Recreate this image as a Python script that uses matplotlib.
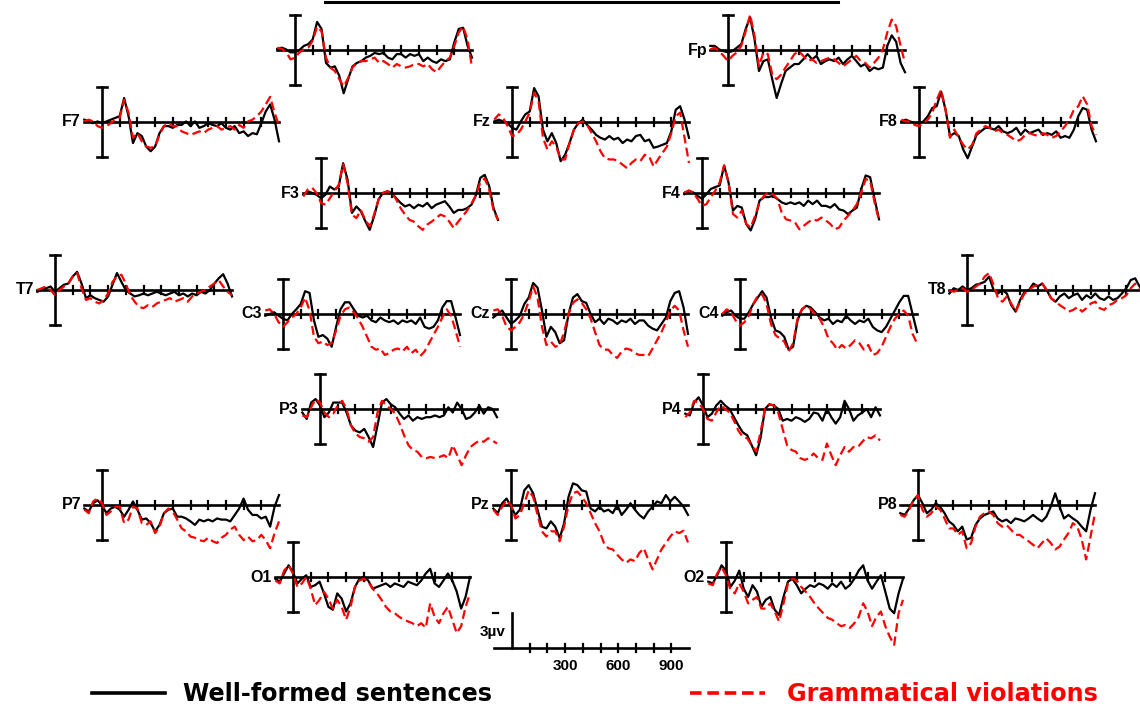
import numpy as np
import matplotlib.pyplot as plt
from matplotlib.lines import Line2D

# ERP grand averages, sampled every 25 ms from -100 to 1000 ms (values in microvolts)
times = np.arange(-100, 1001, 25)

fpl_black = [0.1, 0.2, 0.05, -0.2, -0.2, 0, 0.35, 0.5, 0.9,
             2.4, 1.8, -1.1, -1.5, -1.4, -2.2, -3.7, -2.5, -1.4,
             -1.1, -0.95, -0.65, -0.5, -0.25, -0.35, -0.25, -0.65, -0.8,
             -0.35, -0.35, -0.65, -0.35, -0.5, -0.35, -0.95, -0.65, -0.95,
             -1.1, -0.8, -0.95, -0.8, 0.65, 1.8, 1.9, 0.35, -0.65]
fpl_red = [0.2, 0.1, -0.2, -0.8, -0.65, -0.2, 0.05, 0.2, 0.8,
           2.0, 1.6, -0.65, -1.5, -1.8, -2.5, -3.1, -2.4, -1.5,
           -1.1, -0.95, -0.95, -0.8, -0.65, -1.1, -0.95, -1.2, -1.5,
           -1.2, -1.4, -1.5, -1.4, -1.2, -1.2, -1.4, -1.2, -1.65,
           -1.9, -1.4, -0.95, -0.65, 0.35, 1.5, 2.0, 0.9, -1.5]

fp_black = [0.35, 0.35, 0.05, -0.1, -0.2, -0.1, 0.2, 0.5, 1.8,
            2.8, 0.9, -1.8, -0.95, -0.8, -2.5, -4.1, -2.9, -1.8,
            -1.5, -1.2, -1.2, -0.8, -0.35, -0.8, -0.5, -1.2, -0.95,
            -0.8, -0.95, -0.65, -1.2, -0.8, -0.5, -0.95, -1.4, -1.2,
            -1.8, -1.5, -1.65, -1.5, 0.35, 1.25, 0.7, -1.1, -1.9]
fp_red = [0.05, 0.2, -0.1, -0.5, -0.95, -0.5, -0.2, 0.35, 1.6,
          3.0, 1.2, -1.4, -0.2, -0.35, -2.1, -2.5, -2.1, -1.5,
          -0.95, -0.35, -0.1, -0.5, -0.95, -0.8, -1.1, -0.95, -0.8,
          -0.65, -0.8, -1.1, -1.4, -1.1, -0.8, -0.5, -0.95, -1.1,
          -1.5, -1.1, -0.65, 0.05, 1.5, 2.6, 2.05, 0.35, -1.1]

f7_black = [0.2, 0.05, -0.1, 0.05, -0.1, 0.05, 0.2, 0.35, 0.5,
            2.05, 0.5, -1.8, -0.95, -1.2, -2.1, -2.5, -2.1, -0.95,
            -0.35, -0.35, -0.5, -0.25, -0.25, 0.05, -0.35, 0.05, -0.5,
            -0.35, -0.1, -0.25, -0.35, -0.1, -0.5, -0.65, -0.35, -0.95,
            -0.8, -1.2, -0.95, -1.05, -0.1, 0.9, 1.5, 0.2, -1.65]
f7_red = [0.05, 0.2, 0.05, -0.35, -0.5, -0.35, -0.1, 0.2, 0.35,
          1.9, 0.8, -1.35, -0.95, -1.65, -2.1, -2.2, -2.1, -1.1,
          -0.35, -0.1, -0.35, -0.35, -0.8, -0.95, -1.1, -0.95, -0.8,
          -0.95, -0.65, -0.5, -0.35, -0.65, -0.5, -0.35, -0.65, -0.25,
          -0.5, 0.05, 0.2, 0.5, 0.9, 1.5, 2.15, 0.8, -0.3]

fz_black = [0.05, 0.2, 0.05, -0.1, -0.5, -0.65, 0.05, 0.65, 0.9,
            2.9, 2.2, -0.65, -1.65, -0.95, -1.8, -3.35, -2.8, -1.8,
            -0.65, -0.1, 0.2, -0.25, -0.65, -1.1, -1.35, -1.5, -1.2,
            -1.5, -1.35, -1.8, -1.5, -1.65, -1.2, -1.1, -1.65, -1.5,
            -2.2, -2.1, -1.95, -1.8, -0.8, 1.05, 1.35, 0.2, -1.35]
fz_red = [0.2, 0.65, 0.35, -0.35, -1.2, -1.1, -0.65, 0.05, 0.8,
          2.5, 1.8, -1.35, -2.35, -1.65, -2.1, -3.2, -3.2, -1.8,
          -0.65, -0.1, 0.05, -0.25, -0.95, -1.65, -2.5, -3.1, -3.2,
          -3.2, -3.35, -3.65, -3.95, -3.5, -3.2, -3.35, -2.8, -2.95,
          -3.8, -3.2, -2.65, -2.1, -0.95, 0.5, 0.8, -1.35, -3.5]

f8_black = [0.05, 0.2, 0.05, -0.1, -0.1, 0.05, 0.5, 1.2, 1.35,
            2.6, 1.05, -1.2, -0.95, -1.2, -2.35, -3.1, -2.1, -1.1,
            -0.8, -0.5, -0.5, -0.65, -0.35, -0.8, -0.95, -0.8, -0.5,
            -1.1, -0.65, -0.95, -0.8, -0.65, -1.1, -0.95, -1.1, -0.8,
            -1.35, -1.2, -1.35, -0.65, 0.5, 1.2, 1.05, -0.65, -1.65]
f8_red = [0.2, 0.05, 0.05, -0.25, -0.35, -0.1, 0.2, 0.8, 1.9,
          2.75, 1.05, -1.35, -0.65, -1.35, -1.95, -2.35, -1.95, -0.95,
          -0.65, -0.35, -0.5, -0.8, -0.65, -0.95, -1.1, -1.35, -1.65,
          -1.5, -1.1, -0.95, -1.1, -1.2, -0.95, -1.1, -1.35, -1.2,
          -0.8, -0.35, 0.2, 1.05, 1.35, 2.2, 1.5, -0.35, -1.1]

f3_black = [-0.15, 0.15, 0, -0.15, -0.45, -0.15, 0.55, 0.3, 0.55,
            2.55, 1.15, -1.7, -1.15, -1.55, -2.4, -3.15, -2.0, -0.55,
            0, 0.15, 0, -0.45, -0.85, -1.15, -1.0, -1.3, -1.0,
            -1.15, -0.85, -1.3, -1.0, -0.85, -0.7, -1.15, -1.7, -1.45,
            -1.45, -1.3, -1.0, -0.2, 1.3, 1.55, 0.6, -1.3, -2.3]
f3_red = [-0.3, 0.3, 0.45, 0, -0.85, -1.0, -0.45, 0.15, 0.7,
          2.45, 0.85, -1.85, -2.15, -1.45, -2.3, -2.85, -1.85, -0.55,
          0, 0.15, 0, -0.55, -1.3, -1.85, -2.3, -2.45, -2.85,
          -3.15, -2.7, -2.45, -2.15, -1.85, -2.0, -2.45, -3.0, -2.45,
          -2.0, -1.5, -0.9, -0.2, 0.9, 1.25, 0.3, -1.5, -2.3]

f4_black = [-0.1, 0.2, 0.05, -0.25, -0.5, -0.1, 0.35, 0.5, 0.65,
            2.35, 0.9, -1.5, -1.1, -1.25, -2.65, -3.2, -2.25, -0.65,
            -0.35, -0.35, -0.25, -0.5, -0.8, -0.95, -0.8, -0.95, -0.8,
            -1.1, -0.65, -0.95, -0.65, -1.1, -1.1, -1.25, -0.95, -1.4,
            -1.5, -1.8, -1.5, -1.25, 0.35, 1.5, 1.35, -0.5, -2.25]
f4_red = [0.05, 0.2, 0.05, -0.5, -1.1, -0.95, -0.35, 0.2, 0.9,
          2.35, 0.9, -1.8, -2.1, -1.5, -2.65, -2.95, -1.95, -0.8,
          -0.25, 0.05, -0.1, -0.5, -1.65, -2.25, -2.35, -2.5, -3.1,
          -2.8, -2.5, -2.25, -2.35, -2.1, -2.35, -2.65, -3.1, -2.95,
          -2.35, -1.95, -1.5, -0.95, 0.05, 1.2, 1.05, -0.8, -2.35]

t7_black = [-0.15, 0, 0.15, 0.3, -0.15, 0.15, 0.45, 0.55, 1.15,
            1.55, 0.55, -0.7, -0.45, -0.7, -0.85, -1.0, -0.55, 0.45,
            1.45, 0.7, 0, -0.3, -0.55, -0.45, -0.3, -0.45, -0.3,
            -0.15, -0.3, -0.45, -0.3, -0.15, -0.45, -0.3, -0.55, -0.3,
            -0.45, -0.15, -0.3, 0, 0.55, 1.0, 1.35, 0.55, -0.55]
t7_red = [0, 0.15, 0.3, 0, -0.45, 0, 0.3, 0.55, 1.15,
          1.45, 0.15, -0.85, -0.7, -1.0, -1.15, -0.85, -0.3, 0.7,
          1.15, 1.3, 0.55, -0.45, -1.0, -1.45, -1.55, -1.3, -1.45,
          -1.15, -1.0, -0.85, -0.7, -1.0, -0.85, -0.7, -1.0, -0.55,
          -0.3, -0.15, 0, 0.3, 0.55, 0.85, 0.3, -0.15, -0.45]

c3_black = [-0.15, 0, 0.15, -0.15, -0.4, -0.55, 0, 0.4, 0.85,
            1.95, 1.8, -0.55, -1.95, -1.8, -2.1, -2.8, -1.1, 0.4,
            1.0, 1.0, 0.4, -0.15, -0.3, -0.15, -0.55, -0.7, -0.3,
            -0.55, -0.7, -0.55, -0.85, -0.55, -0.7, -0.55, -0.85, -0.3,
            -1.1, -1.25, -1.1, -0.55, 0.55, 1.1, 1.1, -0.3, -1.8]
c3_red = [0.3, 0.4, 0, -0.7, -1.1, -0.7, -0.3, 0, 0.55,
          1.4, 0.3, -1.95, -2.5, -2.35, -2.65, -2.5, -1.4, -0.15,
          0.4, 0.55, 0.15, -0.4, -1.1, -1.95, -2.8, -3.05, -2.95,
          -3.5, -3.35, -3.05, -2.95, -3.2, -2.8, -3.35, -3.05, -3.6,
          -3.2, -2.5, -1.8, -1.1, -0.3, 0.4, -0.15, -1.4, -2.8]

cz_black = [-0.3, 0, 0.3, -0.3, -0.85, -0.55, -0.15, 0.85, 1.4,
            2.65, 2.25, 0.3, -1.95, -1.1, -1.55, -2.5, -2.25, 0,
            1.4, 1.7, 1.1, 0.95, 0, -0.7, -0.4, -0.85, -0.4,
            -0.55, -0.85, -0.55, -0.7, -0.4, -0.85, -0.55, -0.55, -1.0,
            -1.25, -1.4, -0.85, -0.3, 1.1, 1.8, 1.95, 0.55, -1.7]
cz_red = [0.3, 0.4, -0.15, -1.1, -1.4, -1.1, -0.7, 0, 1.1,
          2.35, 1.4, -1.1, -2.65, -2.35, -2.8, -2.65, -1.55, 0,
          0.95, 1.25, 0.95, 0.4, -0.4, -1.55, -2.65, -3.05, -3.05,
          -3.5, -3.75, -3.2, -2.95, -3.05, -3.35, -3.5, -3.5, -3.6,
          -2.95, -2.25, -1.55, -0.7, 0.3, 0.7, 0.3, -1.4, -2.8]

c4_black = [-0.15, 0.15, 0.3, -0.15, -0.4, -0.4, 0.15, 0.85, 1.4,
            1.95, 1.4, -0.3, -1.4, -1.55, -1.95, -3.05, -2.8, -0.55,
            0.4, 0.7, 0.55, 0.15, -0.3, -0.55, -0.4, -0.85, -0.55,
            -0.7, -0.15, -0.55, -0.85, -0.55, -0.7, -0.4, -1.1, -1.4,
            -1.55, -1.1, -0.4, 0.3, 1.0, 1.55, 1.55, 0, -1.55]
c4_red = [0, 0.4, 0.15, -0.55, -1.0, -0.7, -0.15, 0.85, 1.55,
          1.7, 0.85, -0.85, -1.8, -2.1, -2.35, -3.2, -2.5, -0.4,
          0.4, 0.7, 0.4, 0, -0.4, -1.1, -2.1, -2.5, -3.05,
          -2.65, -2.95, -2.65, -2.25, -2.5, -3.05, -2.65, -3.5, -3.35,
          -2.8, -1.95, -1.1, -0.4, 0, 0.3, -0.15, -1.7, -2.5]

t8_black = [-0.3, 0.15, 0, 0.3, 0, 0.15, 0.45, 0.55, 0.7,
            1.15, 0, -0.3, 0, -0.3, -1.3, -1.85, -0.85, -0.15,
            0, 0.55, 0.3, 0.55, 0, -0.7, -1.0, -0.55, -0.3,
            -0.7, -0.45, -0.3, -0.85, -0.45, -0.7, -0.3, -0.7, -0.85,
            -0.55, -0.85, -0.7, -0.3, 0.15, 0.85, 1.0, 0.3, -0.3]
t8_red = [0, -0.15, 0, 0.15, -0.15, 0, 0.3, 0.55, 1.15,
          1.45, 0.45, -0.7, -1.0, -0.55, -1.15, -1.85, -1.0, -0.3,
          0, 0.3, 0.45, 0.55, 0, -0.7, -1.0, -1.3, -1.55,
          -1.85, -1.7, -1.45, -1.85, -1.55, -1.15, -1.0, -1.55, -1.7,
          -1.3, -1.15, -0.85, -0.7, -0.45, 0.15, 0.55, 0.15, -0.45]

p3_black = [-0.3, -0.85, 0.55, 0.85, 0.3, -0.7, -0.3, 0.55, 0.55,
            0.55, -0.3, -1.4, -1.85, -2.0, -1.7, -2.4, -3.25, -1.4,
            0.55, 0.85, 0.4, 0.15, -0.4, -0.85, -0.55, -1.0, -0.7,
            -0.85, -0.7, -0.7, -0.55, -0.7, -0.55, 0.15, -0.3, 0.55,
            0, -0.85, -0.7, -0.3, 0.3, -0.4, 0.15, 0, -0.7]
p3_red = [-0.55, -0.7, 0.15, 0.85, 0.55, -0.3, -0.7, -0.4, 0.3,
          0.7, 0, -1.4, -2.1, -2.4, -2.5, -2.8, -2.4, -0.3,
          0.7, 0.3, 0, -0.4, -1.25, -2.25, -3.1, -3.5, -3.65,
          -4.1, -4.2, -4.1, -4.2, -4.1, -3.95, -4.2, -3.1, -3.95,
          -4.8, -3.95, -3.25, -2.95, -2.7, -2.8, -2.5, -2.7, -2.95]

p4_black = [-0.4, -0.55, 0.55, 1.0, 0.3, -0.7, -0.4, 0.3, 0.7,
            0.3, 0, -0.7, -1.4, -2.0, -2.25, -3.1, -3.95, -2.5,
            0, 0.4, 0.3, 0, -1.0, -0.85, -1.0, -0.7, -0.85,
            -1.1, -0.85, -0.3, -0.4, -1.0, 0, -0.7, -1.25, -0.7,
            0.7, 0, -1.0, -0.55, -0.3, 0, -0.7, 0.15, -0.55]
p4_red = [-0.7, -0.3, 0.7, 0.55, 0, -0.85, -1.0, -0.3, 0.3,
          0, -0.3, -1.0, -1.85, -2.4, -2.5, -3.1, -3.65, -2.0,
          0, 0.4, 0.3, -0.3, -1.7, -3.1, -3.5, -3.65, -4.2,
          -4.35, -4.2, -3.8, -4.2, -4.35, -2.95, -3.95, -4.8, -3.95,
          -3.25, -3.65, -3.25, -3.25, -2.8, -2.4, -2.5, -2.25, -2.7]

p7_black = [-0.3, -0.55, 0.15, 0.4, 0, -0.7, -0.3, -0.15, -0.4,
            -1.0, -0.4, 0.3, -0.4, -1.25, -1.15, -1.55, -2.25, -1.7,
            -0.7, -0.4, -0.3, -1.0, -1.0, -1.15, -1.4, -1.7, -1.25,
            -1.4, -1.25, -1.4, -1.15, -1.25, -1.25, -1.4, -0.85, -0.3,
            0.55, -0.4, -0.85, -0.85, -1.15, -1.0, -1.85, -0.15, 0.85]
p7_red = [-0.4, -0.7, 0.3, 0.55, 0.15, -0.85, -0.55, -0.15, -0.15,
          -1.55, -1.25, -0.15, -0.3, -1.55, -1.7, -1.4, -2.4, -1.85,
          -0.7, -0.3, -0.55, -1.25, -2.0, -2.25, -2.7, -2.8, -3.0,
          -3.1, -2.8, -3.1, -3.25, -2.8, -2.55, -2.1, -1.85, -2.55,
          -3.0, -2.7, -3.1, -3.0, -2.55, -3.0, -3.7, -2.4, -1.4]

pz_black = [-0.3, -0.7, 0.15, 0.55, -0.15, -0.85, -0.4, 1.25, 1.7,
            1.0, -0.4, -1.85, -2.0, -1.4, -1.85, -2.85, -1.55, 0.7,
            1.85, 1.7, 1.25, 1.15, -0.3, -0.55, -0.15, -0.55, -0.4,
            -0.7, 0, -0.85, -0.4, 0.15, -0.4, -0.85, -1.15, -0.55,
            -0.15, 0.3, 0.15, 0.85, 0.3, 0.7, 0.3, -0.15, -0.85]
pz_red = [-0.4, -0.85, -0.15, 0.4, 0, -1.15, -0.85, 0.15, 1.25,
          0.7, -0.85, -2.25, -2.7, -2.25, -2.25, -3.1, -1.85, 0,
          1.0, 1.15, 0.7, 0.15, -0.7, -1.55, -2.25, -3.25, -3.7,
          -3.8, -4.25, -4.65, -4.95, -4.65, -4.8, -4.1, -3.7, -4.65,
          -5.5, -4.65, -3.8, -3.25, -2.7, -2.25, -2.4, -2.2, -3.2]

p8_black = [-0.7, -0.85, -0.3, 0.4, 0.85, 0.15, -0.7, -0.4, 0.15,
            -0.15, -0.7, -1.4, -1.7, -2.25, -1.85, -2.95, -2.8, -1.7,
            -1.15, -0.85, -0.7, -0.55, -1.15, -1.4, -1.25, -1.55, -1.15,
            -1.25, -1.4, -1.15, -0.85, -1.15, -1.4, -1.0, -0.15, 1.0,
            -0.15, -1.15, -0.85, -1.15, -1.4, -1.85, -2.25, -0.4, 1.0]
p8_red = [-0.85, -1.0, -0.4, 0.4, 0.85, -0.4, -1.0, -0.7, -0.15,
          -0.4, -1.15, -2.0, -2.0, -2.55, -2.25, -3.7, -3.25, -1.85,
          -1.0, -0.7, -0.55, -0.85, -1.55, -1.85, -1.7, -2.1, -2.55,
          -2.55, -2.85, -3.1, -3.4, -3.7, -3.25, -2.85, -3.25, -3.8,
          -3.55, -2.95, -2.4, -1.55, -1.85, -2.95, -4.65, -2.7, -0.7]

o1_black = [-0.15, -0.4, 0.3, 1.0, 0.4, -0.55, -0.15, 0.15, -0.85,
            -0.7, -0.4, -1.4, -2.55, -2.8, -1.4, -1.85, -2.95, -2.25,
            -0.85, -0.15, 0, -0.3, -1.0, -0.85, -0.7, -0.55, -0.85,
            -0.55, -0.7, -0.85, -0.4, -0.55, -0.7, -0.3, 0.3, 0.7,
            -0.55, -0.85, -0.3, 0.3, -0.3, -1.25, -2.7, -1.7, 0]
o1_red = [-0.3, -0.55, 0.55, 1.0, 0.3, -0.85, -0.55, 0, -1.0,
          -2.4, -1.95, -1.25, -1.85, -2.7, -1.95, -2.55, -3.65, -2.55,
          -0.85, -0.3, -0.15, -0.4, -1.0, -1.4, -1.95, -2.55, -2.95,
          -3.1, -3.4, -3.65, -3.8, -3.95, -4.2, -3.95, -4.35, -2.25,
          -3.4, -3.95, -3.1, -2.55, -3.65, -4.8, -4.2, -2.55, -1.4]

o2_black = [-0.4, -0.55, 0.15, 1.0, 0.55, -0.85, -0.3, 0.55, -1.0,
            -1.7, -0.7, -1.25, -2.55, -1.95, -1.7, -2.8, -3.25, -1.7,
            -0.4, -0.15, -0.7, -1.4, -1.0, -0.7, -0.85, -0.55, -0.7,
            -1.0, -0.55, -0.85, -0.4, -1.0, -0.7, -0.15, 0.55, 1.0,
            -0.3, -1.0, -0.4, 0.15, -1.25, -2.7, -3.1, -1.4, -0.15]
o2_red = [-0.55, -0.7, 0.3, 0.85, 0.15, -1.1, -1.4, -0.55, -1.25,
          -2.25, -1.95, -1.7, -2.7, -2.7, -2.25, -2.95, -3.8, -2.25,
          -0.55, -0.15, -0.3, -0.85, -1.25, -1.7, -2.25, -2.7, -3.1,
          -3.5, -3.65, -3.95, -4.2, -4.1, -4.35, -3.95, -3.4, -2.25,
          -2.95, -4.2, -3.4, -2.95, -4.2, -5.1, -5.8, -3.1, -1.95]

scale_ticks = [300, 600, 900]

# figure size in pixels and the drawing scale of each panel
W, H = 1140, 706
PX_MS = 0.177   # pixels per millisecond
PX_UV = 11.7    # pixels per microvolt
RED = '#ff0000'
DASH = (0, (4, 2))

# (label, black, red, x of the 0 ms bar, y of the baseline), pixel positions from top-left
layout = [
    ('',   fpl_black, fpl_red, 295, 50),
    ('Fp', fp_black, fp_red, 728, 50),
    ('F7', f7_black, f7_red, 102, 122),
    ('Fz', fz_black, fz_red, 512, 122),
    ('F8', f8_black, f8_red, 919, 122),
    ('F3', f3_black, f3_red, 321, 193),
    ('F4', f4_black, f4_red, 702, 193),
    ('T7', t7_black, t7_red, 55, 290),
    ('C3', c3_black, c3_red, 283, 314),
    ('Cz', cz_black, cz_red, 511, 314),
    ('C4', c4_black, c4_red, 740, 314),
    ('T8', t8_black, t8_red, 967, 290),
    ('P3', p3_black, p3_red, 320, 409),
    ('P4', p4_black, p4_red, 703, 409),
    ('P7', p7_black, p7_red, 102, 505),
    ('Pz', pz_black, pz_red, 511, 505),
    ('P8', p8_black, p8_red, 918, 505),
    ('O1', o1_black, o1_red, 293, 577),
    ('O2', o2_black, o2_red, 726, 577),
]

fig = plt.figure(figsize=(W / 100, H / 100), dpi=100)


def make_axes(bar_x, base_y):
    left = bar_x - 100 * PX_MS
    bottom = H - base_y - 6 * PX_UV
    ax = fig.add_axes([left / W, bottom / H, 1100 * PX_MS / W, 10 * PX_UV / H])
    ax.set_xlim(-100, 1000)
    ax.set_ylim(-6, 4)
    ax.axis('off')
    return ax


def draw_frame(ax, top=3, bottom=-3, caps=True):
    ax.plot([-100, 1000], [0, 0], color='black', lw=1.9, clip_on=False)
    ax.plot([0, 0], [bottom, top], color='black', lw=1.9, clip_on=False)
    if caps:
        for y in (top, bottom):
            ax.plot([-30, 30], [y, y], color='black', lw=1.9, clip_on=False)
    for t in range(100, 1000, 100):
        ax.plot([t, t], [-0.35, 0.35], color='black', lw=1.6, clip_on=False)


for name, black, red, bx, by in layout:
    ax = make_axes(bx, by)
    draw_frame(ax)
    ax.plot(times, black, color='black', lw=1.6, clip_on=False)
    ax.plot(times, red, color=RED, lw=1.6, ls=DASH, clip_on=False)
    ax.text(-118, 0, name, ha='right', va='center', fontsize=11.5,
            fontweight='bold', family='Liberation Sans')

# calibration panel
ax = make_axes(512, 648)
draw_frame(ax, top=3, bottom=0, caps=False)
ax.plot([-110, -80], [3, 3], color='black', lw=1.6, clip_on=False)
for t in scale_ticks:
    ax.text(t, -0.9, str(t), ha='center', va='top', fontsize=11,
            fontweight='bold', family='Liberation Sans')
ax.text(-35, 1.4, '3µv', ha='right', va='center', fontsize=11,
        fontweight='bold', family='Liberation Sans')

# bar at the top edge
fig.add_artist(Line2D([325 / W, 838 / W], [1 - 1.5 / H] * 2, color='black', lw=2.2))

# legend
fig.add_artist(Line2D([92 / W, 165 / W], [1 - 693 / H] * 2, color='black', lw=2.6))
fig.text(183 / W, 1 - 694 / H, 'Well-formed sentences', fontsize=17.2,
         fontweight='bold', va='center', ha='left', color='black')
fig.add_artist(Line2D([690 / W, 765 / W], [1 - 693 / H] * 2, color=RED, lw=2.6,
                      ls=(0, (3.2, 1.6))))
fig.text(787 / W, 1 - 694 / H, 'Grammatical violations', fontsize=17.2,
         fontweight='bold', va='center', ha='left', color=RED)

fig.savefig('out.png', dpi=100, facecolor='white')
